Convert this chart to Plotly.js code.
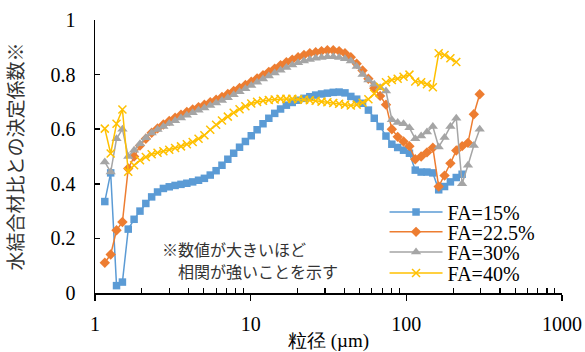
<!DOCTYPE html>
<html>
<head>
<meta charset="utf-8">
<script src="https://cdn.plot.ly/plotly-3.0.1.min.js"></script>
<style>html,body{margin:0;padding:0;background:#fff;}#chart{width:585px;height:352px;}</style>
</head>
<body>
<div id="chart"></div>
<script>
// particle size channels (µm)
const sizes = [1.156, 1.261, 1.375, 1.5, 1.635, 1.783, 1.945, 2.121, 2.312, 2.522, 2.75, 2.999, 3.27, 3.567, 3.889, 4.241, 4.625, 5.044, 5.5, 5.998, 6.541, 7.133, 7.778, 8.482, 9.25, 10.09, 11, 12, 13.08, 14.27, 15.56, 16.96, 18.5, 20.17, 22, 23.99, 26.16, 28.53, 31.11, 33.93, 37, 40.35, 44, 47.98, 52.33, 57.06, 62.23, 67.86, 74, 80.7, 88, 95.96, 104.7, 114.1, 124.5, 135.7, 148, 161.4, 176, 191.9, 209.3, 228.2, 248.9, 271.4, 296];

const fa15 = [0.335, 0.44, 0.027, 0.04, 0.234, 0.27, 0.30, 0.328, 0.352, 0.37, 0.383, 0.389, 0.394, 0.398, 0.402, 0.407, 0.413, 0.42, 0.432, 0.448, 0.468, 0.49, 0.512, 0.534, 0.555, 0.576, 0.598, 0.62, 0.64, 0.658, 0.674, 0.688, 0.698, 0.706, 0.713, 0.719, 0.725, 0.729, 0.732, 0.735, 0.736, 0.733, 0.72, 0.71, 0.695, 0.67, 0.64, 0.61, 0.575, 0.545, 0.533, 0.523, 0.512, 0.45, 0.443, 0.443, 0.44, 0.378, 0.39, 0.407, 0.423, 0.435];

const fa225 = [0.111, 0.141, 0.23, 0.26, 0.456, 0.50, 0.54, 0.565, 0.587, 0.603, 0.617, 0.63, 0.642, 0.653, 0.663, 0.672, 0.681, 0.69, 0.699, 0.708, 0.718, 0.729, 0.74, 0.751, 0.762, 0.774, 0.786, 0.798, 0.81, 0.822, 0.834, 0.845, 0.855, 0.864, 0.872, 0.878, 0.882, 0.886, 0.889, 0.889, 0.886, 0.878, 0.864, 0.84, 0.815, 0.785, 0.75, 0.722, 0.69, 0.60, 0.572, 0.555, 0.538, 0.49, 0.50, 0.515, 0.532, 0.39, 0.43, 0.475, 0.522, 0.538, 0.55, 0.655, 0.728];

const fa30 = [0.48, 0.443, 0.565, 0.60, 0.50, 0.523, 0.547, 0.569, 0.586, 0.599, 0.61, 0.621, 0.631, 0.641, 0.651, 0.66, 0.669, 0.678, 0.687, 0.696, 0.705, 0.715, 0.726, 0.737, 0.748, 0.76, 0.772, 0.784, 0.795, 0.806, 0.816, 0.826, 0.835, 0.843, 0.85, 0.855, 0.86, 0.863, 0.865, 0.865, 0.863, 0.858, 0.85, 0.83, 0.80, 0.78, 0.765, 0.752, 0.74, 0.635, 0.625, 0.62, 0.605, 0.565, 0.575, 0.59, 0.61, 0.535, 0.57, 0.61, 0.64, 0.40, 0.468, 0.54, 0.60];

const fa40 = [0.602, 0.511, 0.62, 0.672, 0.444, 0.468, 0.486, 0.498, 0.508, 0.514, 0.519, 0.525, 0.531, 0.537, 0.545, 0.553, 0.565, 0.578, 0.598, 0.616, 0.632, 0.646, 0.66, 0.673, 0.684, 0.694, 0.70, 0.704, 0.707, 0.709, 0.711, 0.711, 0.711, 0.71, 0.708, 0.706, 0.704, 0.701, 0.699, 0.696, 0.693, 0.69, 0.687, 0.69, 0.697, 0.71, 0.73, 0.755, 0.772, 0.78, 0.785, 0.792, 0.80, 0.775, 0.772, 0.765, 0.754, 0.878, 0.872, 0.86, 0.846];

const seriesNames = ['FA=15%', 'FA=22.5%', 'FA=30%', 'FA=40%'];
const xTickVals = [1, 10, 100, 1000];
const xTickText = ['1', '10', '100', '1000'];
const yTickVals = [0, 0.2, 0.4, 0.6, 0.8, 1];
const yTickText = ['0', '0.2', '0.4', '0.6', '0.8', '1'];
const noteLines = ['※数値が大きいほど', '　相関が強いことを示す'];

const SERIF = 'Liberation Serif';
const CJK = 'Noto Sans CJK JP';

const colors = ['#5B9BD5', '#ED7D31', '#A5A5A5', '#FFC000'];
const symbols = ['square', 'diamond', 'triangle-up', 'x-thin'];
const msizes = [7.5, 8, 9, 8];
const data = [fa15, fa225, fa30, fa40];
const legendIds = ['legend', 'legend2', 'legend3', 'legend4'];

const traces = data.map((vals, k) => ({
  type: 'scatter',
  mode: 'lines+markers',
  name: seriesNames[k],
  x: sizes.slice(0, vals.length),
  y: vals,
  line: {color: colors[k], width: 1.5},
  marker: k === 3
    ? {symbol: symbols[k], size: msizes[k], color: colors[k], line: {color: colors[k], width: 1.5}}
    : {symbol: symbols[k], size: msizes[k], color: colors[k]},
  legend: legendIds[k]
}));

const minorVals = [];
[1, 10, 100].forEach(d => { for (let m = 2; m <= 9; m++) minorVals.push(m * d); });

const legendYs = [0.297, 0.224, 0.150, 0.073];
const legendBase = {
  x: 0.62, xanchor: 'left', yanchor: 'middle',
  bgcolor: 'rgba(0,0,0,0)', borderwidth: 0,
  itemwidth: 53,
  font: {family: SERIF, size: 20, color: '#000'}
};

const layout = {
  width: 585, height: 352,
  margin: {l: 95, r: 23, t: 20, b: 59},
  paper_bgcolor: '#fff', plot_bgcolor: '#fff',
  showlegend: true,
  font: {family: SERIF, size: 20, color: '#000'},
  xaxis: {
    type: 'log', range: [0, 3],
    tickmode: 'array', tickvals: xTickVals, ticktext: xTickText,
    ticks: 'outside', ticklen: 6, tickwidth: 1.5, tickcolor: '#000',
    ticklabelstandoff: 6,
    minor: {tickmode: 'array', tickvals: minorVals, ticks: 'inside', ticklen: 5, tickwidth: 1.2, tickcolor: '#000'},
    showline: true, linecolor: '#000', linewidth: 1.5,
    showgrid: false, zeroline: false,
    tickfont: {family: SERIF, size: 20, color: '#000'},
    title: {text: '粒径 (µm)', standoff: 6, font: {family: SERIF, size: 19, color: '#000'}}
  },
  xaxis2: {
    type: 'log', range: [0, 3], overlaying: 'x', anchor: 'y',
    tickmode: 'array', tickvals: xTickVals,
    ticks: 'inside', ticklen: 6, tickwidth: 1.5, tickcolor: '#000',
    showticklabels: false, showline: false, showgrid: false, zeroline: false
  },
  yaxis: {
    range: [0, 1],
    tickmode: 'array', tickvals: yTickVals, ticktext: yTickText,
    ticks: 'inside', ticklen: 5, tickwidth: 1.5, tickcolor: '#000',
    ticklabelstandoff: 14,
    showline: true, linecolor: '#000', linewidth: 1.5,
    showgrid: false, zeroline: false,
    tickfont: {family: SERIF, size: 20, color: '#000'},
    title: {text: '水結合材比との決定係数※', standoff: 22, font: {family: CJK, size: 19, color: '#333'}}
  },
  annotations: noteLines.map((t, i) => ({
    xref: 'paper', yref: 'paper',
    x: (160 - 95) / 467, y: (293 - (249 + 22 * i)) / 273,
    xanchor: 'left', yanchor: 'middle', align: 'left', showarrow: false,
    text: t,
    font: {family: CJK, size: 16, color: '#333'}
  }))
};

legendIds.forEach((id, k) => {
  layout[id] = Object.assign({}, legendBase, {y: legendYs[k]});
});

Plotly.newPlot('chart', traces, layout, {displayModeBar: false, staticPlot: true});
</script>
</body>
</html>
